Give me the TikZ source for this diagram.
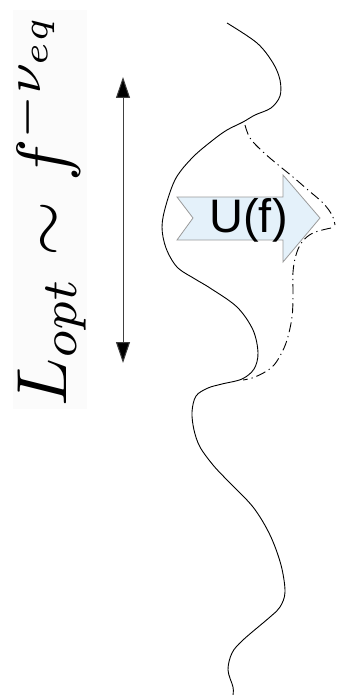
\documentclass[tikz,border=0pt]{standalone}
\usepackage{fontspec}
\usepackage{graphicx}
\newfontfamily\ufont{Liberation Sans}
\usetikzlibrary{arrows.meta}
\definecolor{arrowfill}{HTML}{E4F1FA}
\definecolor{arrowedge}{HTML}{9A9A9A}
\definecolor{textbg}{HTML}{FBFBFB}
\tikzset{
  curve/.style={line width=0.9pt, black},
  pert/.style={line width=0.9pt, black, dash pattern=on 10pt off 4pt on 1.2pt off 4pt},
  lenarrow/.style={line width=1pt, black!75, {Triangle[length=21pt,width=14pt,fill=black]}-{Triangle[length=21pt,width=14pt,fill=black]}},
  bigarrow/.style={fill=arrowfill, draw=arrowedge, line width=0.8pt, line join=miter},
}
\begin{document}
\begin{tikzpicture}[x=1pt,y=-1pt]
\useasboundingbox (0,0) rectangle (343,695);
% faint background of the formula
\fill[textbg] (13,10) rectangle (87,409);
% formula
\node[rotate=90, anchor=base west, inner sep=0pt] (formula) at (66,407)
  {\resizebox{396pt}{!}{$L_{opt}\sim f^{-\nu_{eq}}$}};
% length arrow
\coordinate (atop) at (123,77);
\coordinate (abot) at (123,363);
\draw[lenarrow] (abot) -- (atop);
% solid curve
\draw[curve] plot[smooth, tension=0.55] coordinates {
 (227,23) (257,43) (273,63) (280,80) (280,96) (271,108) (255,115) (243,122) (227,130) (213,140)
 (193,157) (176,178) (166,205) (162,227) (166,248) (177,267) (195,279) (210,288) (237,307)
 (253,330) (258,353) (254,369) (242,379) (222,384) (208,388) (196,396) (192,412) (194,430)
 (200,447) (213,465) (227,480) (253,507) (270,535) (281,565) (285,592) (280,607) (270,617)
 (243,640) (232,653) (228,670) (233,687) (233,695)};
% perturbed (dash-dot) curve
\draw[pert] plot[smooth, tension=0.6] coordinates {
 (245,125) (250,138) (262,151) (277,164) (293,177) (308,190) (323,203) (332,215) (335,225)};
\draw[pert] plot[smooth, tension=0.6] coordinates {
 (331,228) (313,233) (302,242) (296,255) (293,272) (293,295) (292,317) (287,340) (280,356)
 (271,368) (255,377) (243,380)};
% U(f) block arrow
\draw[bigarrow] (177,197) -- (283,197) -- (283,175) -- (320,218) -- (283,262)
  -- (283,240) -- (177,240) -- (193,218) -- cycle;
\node[inner sep=0pt] (ulabel) at (248.5,220) {\ufont\fontsize{47}{50}\selectfont U(f)};
\end{tikzpicture}
\end{document}
